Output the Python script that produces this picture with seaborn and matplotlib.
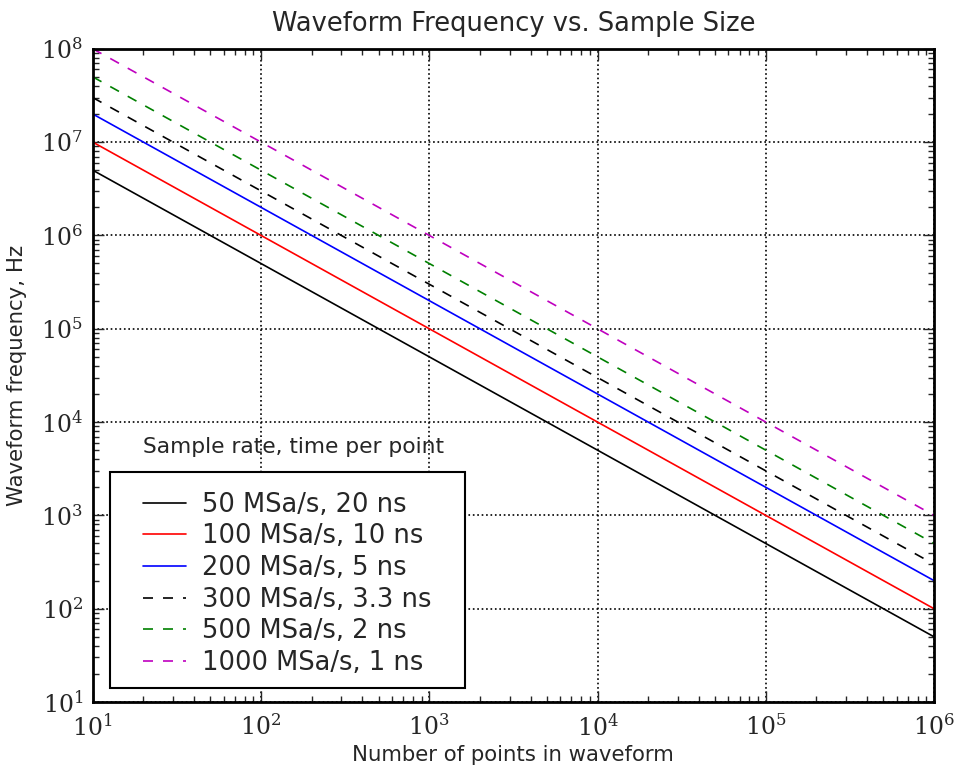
import matplotlib
matplotlib.use("Agg")
import matplotlib.pyplot as plt
from matplotlib.patches import Rectangle
from matplotlib.ticker import FuncFormatter
import seaborn as sns
import pandas as pd
import numpy as np

# number of points in waveform (x) at the two ends of each line
points = [10, 1e6]

labels = ["50 MSa/s, 20 ns", "100 MSa/s, 10 ns", "200 MSa/s, 5 ns",
          "300 MSa/s, 3.3 ns", "500 MSa/s, 2 ns", "1000 MSa/s, 1 ns"]
# waveform frequency (Hz) read at x = 10 and x = 1e6
freq_50 = [5e6, 50]
freq_100 = [1e7, 100]
freq_200 = [2e7, 200]
freq_300 = [3e7, 300]
freq_500 = [5e7, 500]
freq_1000 = [1e8, 1000]

colors = ["black", "red", "blue", "black", "green", "m"]
dash_styles = ["", "", "", (6, 6), (6, 6), (6, 6)]

all_freqs = [freq_50, freq_100, freq_200, freq_300, freq_500, freq_1000]
df = pd.DataFrame({
    "points": points * len(labels),
    "freq": [f for series in all_freqs for f in series],
    "label": [lab for lab in labels for _ in points],
})

sns.set_style("ticks")
plt.rcParams["font.family"] = ["DejaVu Sans"]
plt.rcParams["mathtext.fontset"] = "dejavuserif"

fig = plt.figure(figsize=(9.56, 7.74), dpi=100)
ax = fig.add_axes([0.097, 0.093, 0.880, 0.844])

sns.lineplot(data=df, x="points", y="freq", hue="label", style="label",
             hue_order=labels, style_order=labels,
             palette=dict(zip(labels, colors)),
             dashes=dict(zip(labels, dash_styles)),
             linewidth=1.2, ax=ax, legend=False)

ax.set_xscale("log")
ax.set_yscale("log")
ax.set_xlim(10, 1e6)
ax.set_ylim(10, 1e8)

# serif powers of ten like the old mathtext labels
pow10 = FuncFormatter(lambda v, pos: r"$10^{%d}$" % int(round(np.log10(v))))
ax.xaxis.set_major_formatter(pow10)
ax.yaxis.set_major_formatter(pow10)

ax.grid(True, which="major", color="black", linestyle=":", linewidth=1.2)
ax.tick_params(which="both", top=True, right=True, direction="in",
               labelsize=17, width=1)
ax.tick_params(which="major", length=8)
ax.tick_params(which="minor", length=4)
ax.tick_params(axis="y", pad=7)
ax.tick_params(axis="x", pad=9)
for sp in ax.spines.values():
    sp.set_linewidth(2)
    sp.set_color("black")

ax.set_title("Waveform Frequency vs. Sample Size", fontsize=18.5, pad=13)
ax.set_xlabel("Number of points in waveform", fontsize=15.3, labelpad=3)
ax.set_ylabel("Waveform frequency, Hz", fontsize=15.3, labelpad=10)

# legend box drawn separately so it can be wider than the entries need
ax.add_patch(Rectangle((0.0202, 0.0214), 0.4218, 0.3306, transform=ax.transAxes,
                       facecolor="white", edgecolor="black", linewidth=1.5,
                       zorder=4))
handles = ax.get_lines()[:len(labels)]
leg = ax.legend(handles, labels, loc="upper left",
                bbox_to_anchor=(0.0595, 0.322), borderaxespad=0,
                fontsize=18.5, frameon=False, borderpad=0,
                handlelength=1.7, handletextpad=0.6, labelspacing=0.22)
leg.set_zorder(5)

ax.text(0.06, 0.39, "Sample rate, time per point", transform=ax.transAxes,
        fontsize=15.7, va="center", ha="left")

fig.savefig("out.png", dpi=100)
